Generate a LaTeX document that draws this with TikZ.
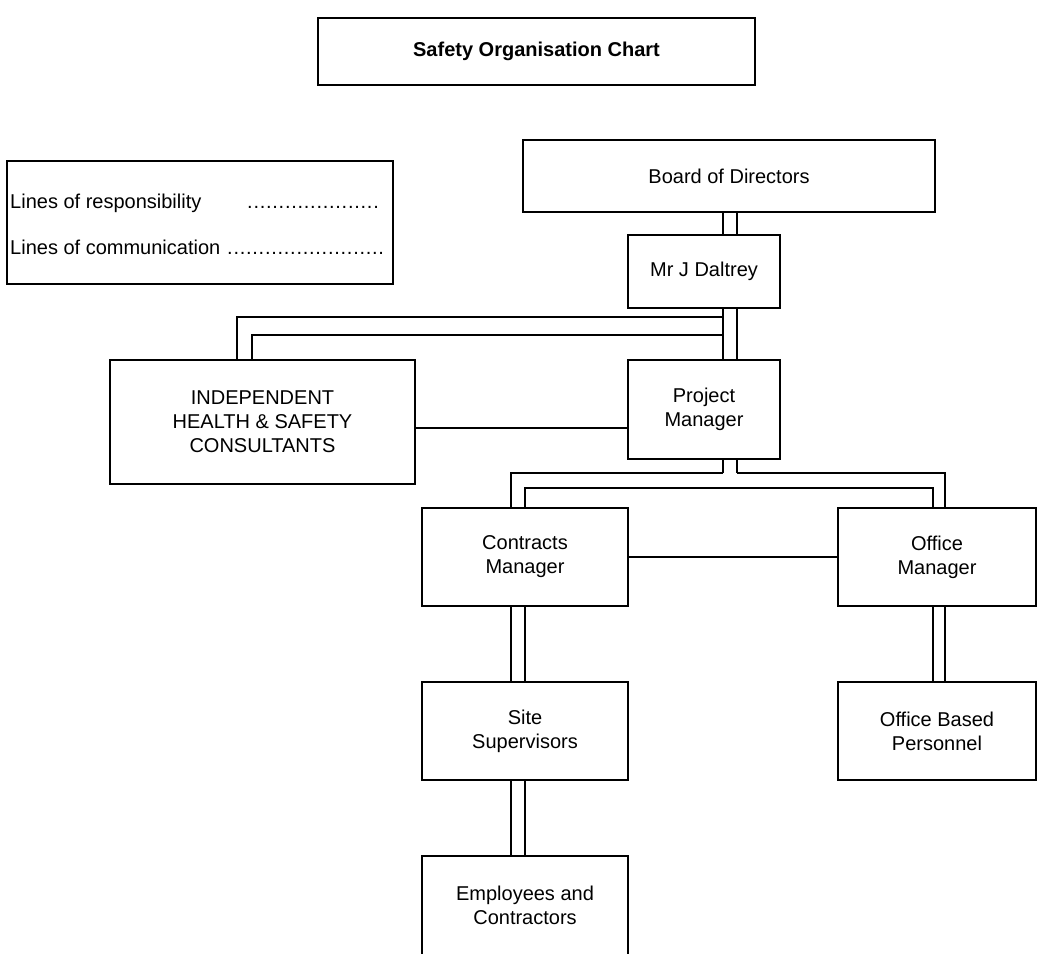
\documentclass[tikz,border=0pt]{standalone}
\usepackage{fontspec}
\setmainfont{Liberation Sans}
\newcommand\legdot{\makebox[6.3pt][l]{.}}
\begin{document}
\begin{tikzpicture}[x=1pt,y=-1pt,
  box/.style={draw, line width=1.6pt, align=center, inner sep=0pt,
              font=\fontsize{20}{24}\selectfont},
  resp/.style={line width=1.3pt},
  comm/.style={line width=1.3pt},
  txt/.style={font=\fontsize{20}{24}\selectfont, inner sep=0pt}]
\useasboundingbox (0,0) rectangle (1038,953);
\clip (0,0) rectangle (1038,953);

% boxes
\node[box, minimum width=437, minimum height=67, font=\fontsize{20}{24}\selectfont\bfseries] (title) at (536.5,51.5) {Safety Organisation Chart};
\node[box, minimum width=386, minimum height=123] (legend) at (200,222.5) {};
\node[txt, anchor=base west] (l1) at (10,208) {Lines of responsibility};
\node[txt, anchor=base west] (d1) at (247,208) {\legdot\legdot\legdot\legdot\legdot\legdot\legdot\legdot\legdot\legdot\legdot\legdot\legdot\legdot\legdot\legdot\legdot\legdot\legdot\legdot\legdot};
\node[txt, anchor=base west] (l2) at (10,254) {Lines of communication};
\node[txt, anchor=base west] (d2) at (227,254) {\legdot\legdot\legdot\legdot\legdot\legdot\legdot\legdot\legdot\legdot\legdot\legdot\legdot\legdot\legdot\legdot\legdot\legdot\legdot\legdot\legdot\legdot\legdot\legdot\legdot};

\node[box, minimum width=412, minimum height=72] (board) at (729,176) {Board of Directors};
\node[box, minimum width=152, minimum height=73] (dal) at (704,271.5) {Mr J Daltrey};
\node[box, minimum width=305, minimum height=124] (ihsc) at (262.5,422) {INDEPENDENT\\HEALTH \& SAFETY\\CONSULTANTS};
\node[box, minimum width=152, minimum height=99] (pm) at (704,409.5) {Project\\Manager};
\node[box, minimum width=206, minimum height=98] (cm) at (525,557) {Contracts\\Manager};
\node[box, minimum width=198, minimum height=98] (om) at (937,557) {Office\\Manager};
\node[box, minimum width=206, minimum height=98] (ss) at (525,731) {Site\\Supervisors};
\node[box, minimum width=198, minimum height=98] (obp) at (937,731) {Office Based\\Personnel};
\node[box, minimum width=206, minimum height=100, anchor=north] (emp) at (525,855) {Employees and\\Contractors};

% junction coordinates
\coordinate (jA) at (723,317);
\coordinate (jB) at (723,335);
\coordinate (jC) at (723,473);
\coordinate (jD) at (737,473);
\coordinate (jE) at (723,488);

% lines of responsibility (double lines)
\draw[resp] (board.south -| 723,0) -- (dal.north -| 723,0);
\draw[resp] (board.south -| 737,0) -- (dal.north -| 737,0);
\draw[resp] (dal.south -| 723,0) -- (pm.north -| 723,0);
\draw[resp] (dal.south -| 737,0) -- (pm.north -| 737,0);
\draw[resp] (jA) -| (ihsc.north -| 237,0);
\draw[resp] (jB) -| (ihsc.north -| 252,0);
\draw[resp] (pm.south -| 723,0) -- (jC);
\draw[resp] (pm.south -| 737,0) -- (jD);
\draw[resp] (jC) -| (cm.north -| 511,0);
\draw[resp] (jD) -| (om.north -| 945,0);
\draw[resp] (cm.north -| 525,0) |- (jE) -| (om.north -| 933,0);
\draw[resp] (cm.south -| 511,0) -- (ss.north -| 511,0);
\draw[resp] (cm.south -| 525,0) -- (ss.north -| 525,0);
\draw[resp] (ss.south -| 511,0) -- (emp.north -| 511,0);
\draw[resp] (ss.south -| 525,0) -- (emp.north -| 525,0);
\draw[resp] (om.south -| 933,0) -- (obp.north -| 933,0);
\draw[resp] (om.south -| 945,0) -- (obp.north -| 945,0);

% lines of communication
\draw[comm] (ihsc.east |- 0,428) -- (pm.west |- 0,428);
\draw[comm] (cm.east) -- (om.west);
\end{tikzpicture}
\end{document}
